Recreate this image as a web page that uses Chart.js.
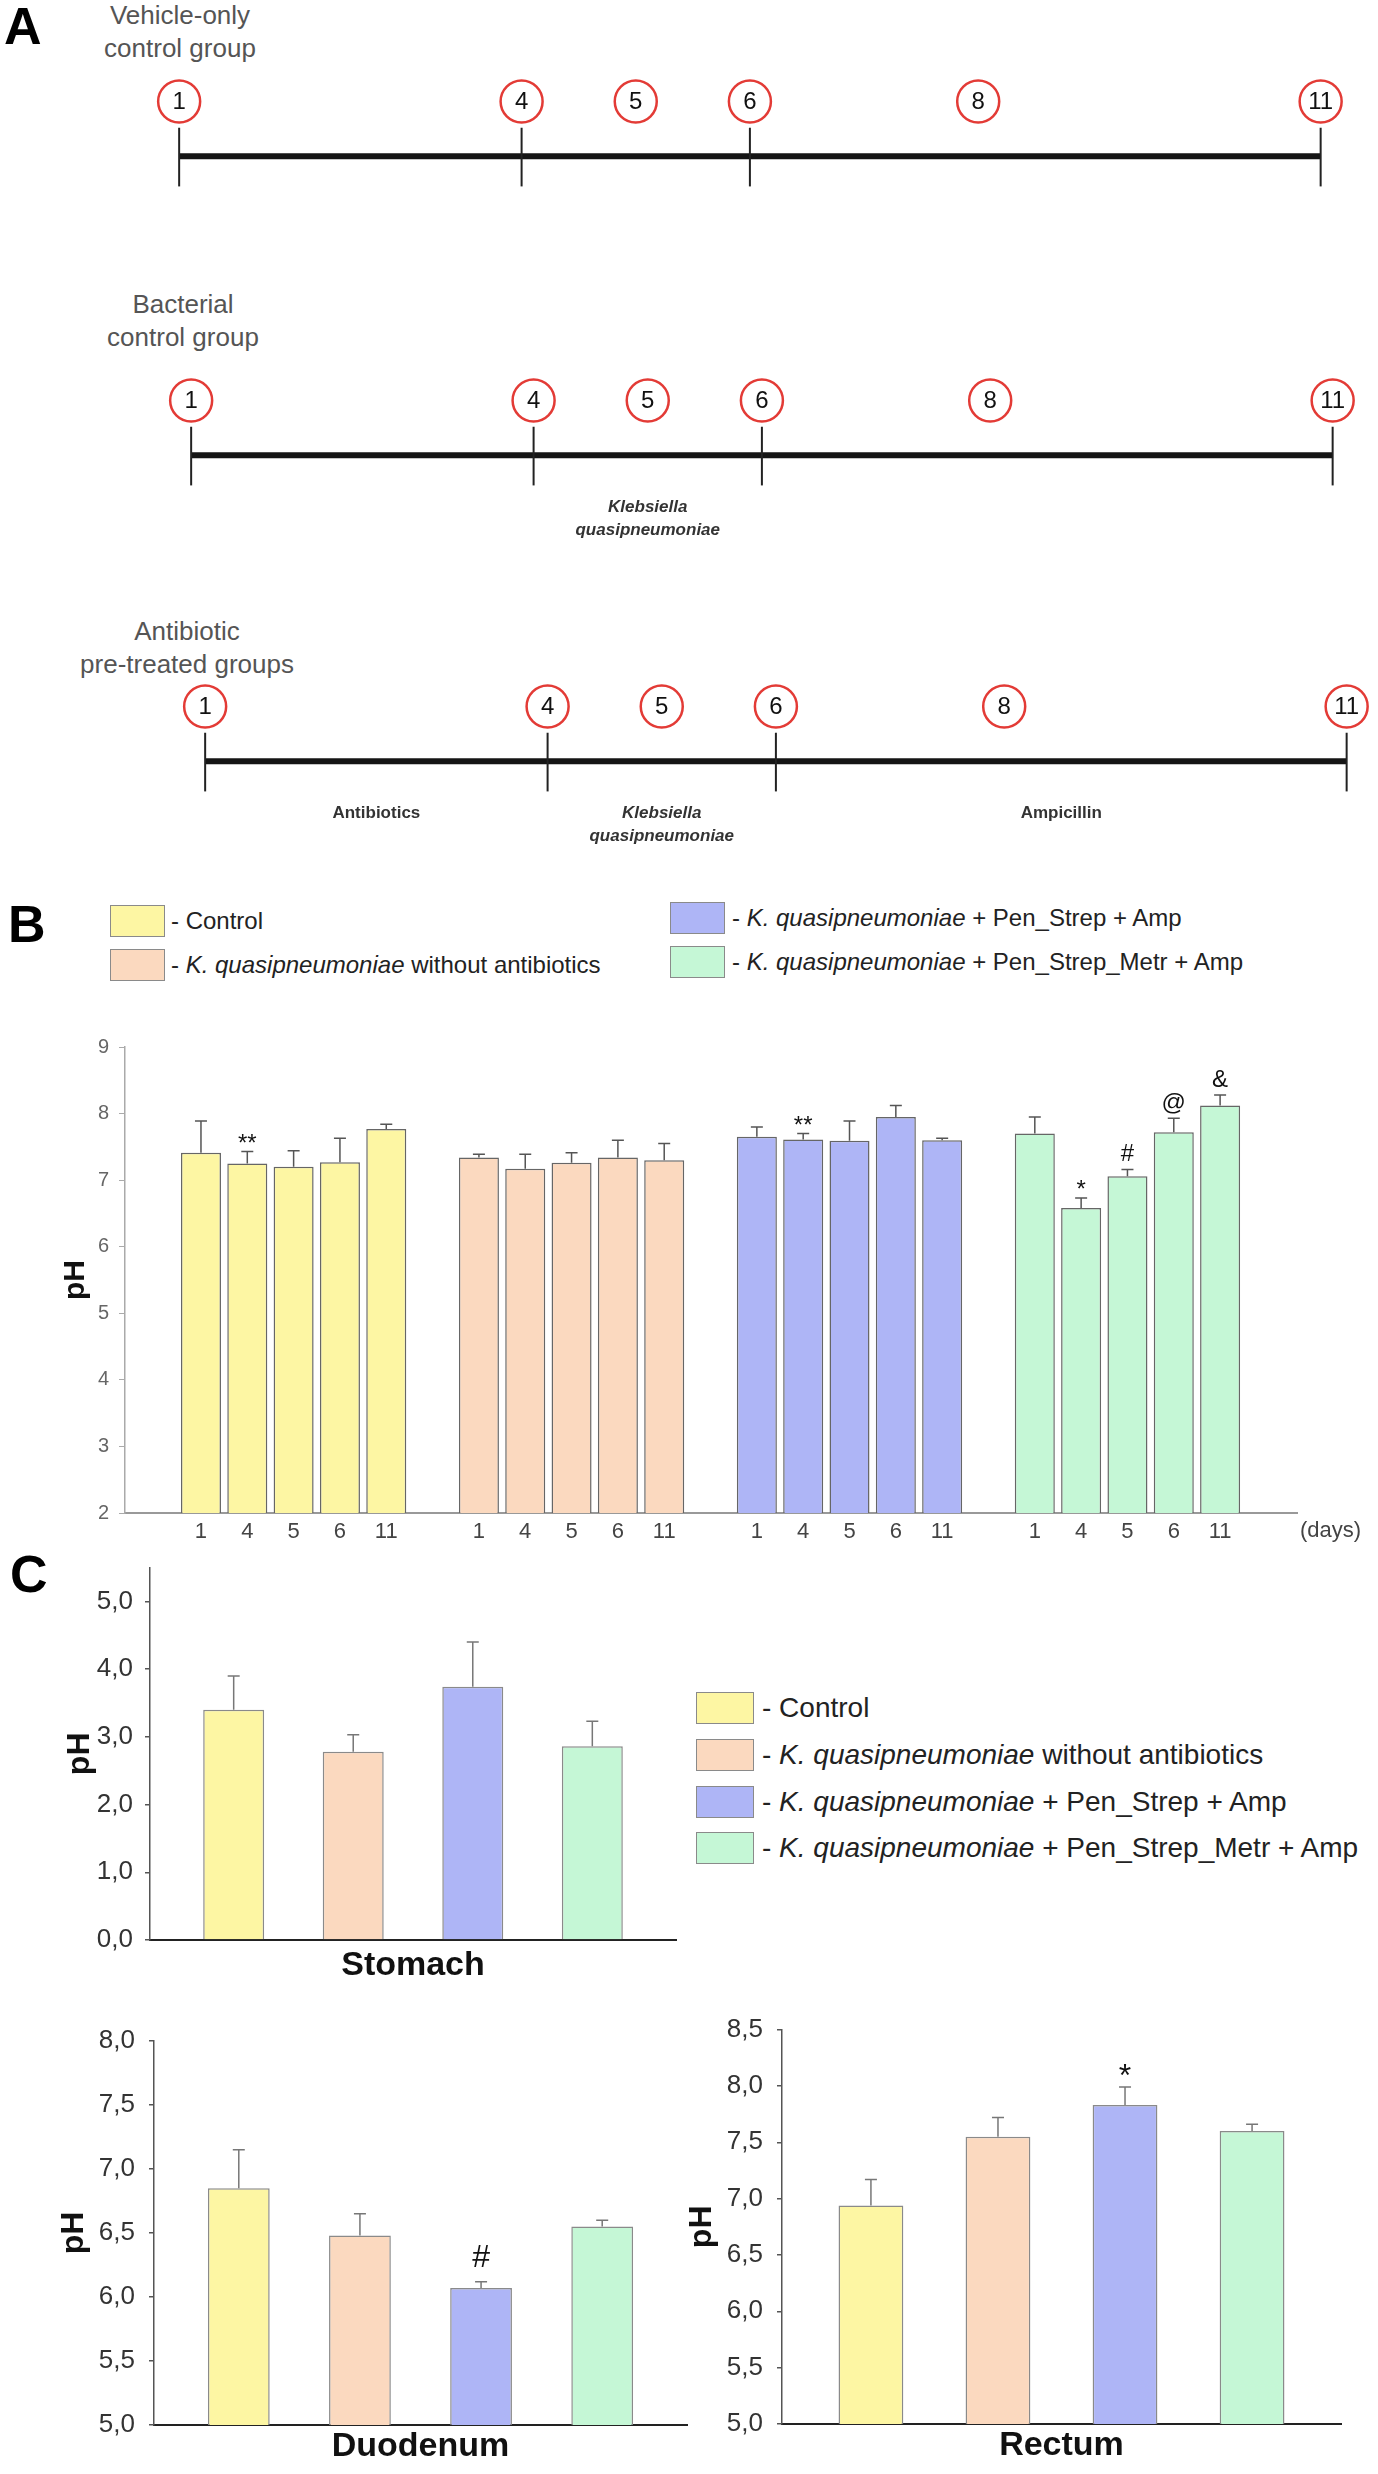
<!DOCTYPE html>
<html lang="en">
<head>
<meta charset="UTF-8">
<title>Gut pH after K. quasipneumoniae infection</title>
<script src="https://cdn.jsdelivr.net/npm/chart.js"></script>
<style>
  body { margin: 0; background: #fff; font-family: 'Liberation Sans', Arial, sans-serif; overflow: hidden; }
  #page { position: relative; width: 1378px; height: 2474px; }
  .abs { position: absolute; }
  .panel { font-weight: bold; font-size: 52px; line-height: 1; color: #000; }
  .rowtitle { width: 300px; text-align: center; font-size: 26px; line-height: 33px; color: #555; }
  .sw { position: absolute; box-sizing: border-box; border: 1.5px solid #8a8a8a; }
  .legB { font-size: 24px; line-height: 32px; color: #222; white-space: nowrap; }
  .legC { font-size: 28px; line-height: 32px; color: #222; white-space: nowrap; }
  .box { position: absolute; }
</style>
</head>
<body>
<div id="page">

  <!-- Panel A: study timeline -->
  <div class="abs panel" style="left:4px; top:0px;">A</div>
  <div class="abs rowtitle" style="left:30px; top:-1px;">Vehicle-only<br>control group</div>
  <div class="abs rowtitle" style="left:33px; top:288px;">Bacterial<br>control group</div>
  <div class="abs rowtitle" style="left:37px; top:615px;">Antibiotic<br>pre-treated groups</div>
  <div class="box" style="left:0; top:74px; width:1378px; height:170px;"><canvas id="rowVehicle"></canvas></div>
  <div class="box" style="left:0; top:373px; width:1378px; height:170px;"><canvas id="rowBacterial"></canvas></div>
  <div class="box" style="left:0; top:679px; width:1378px; height:170px;"><canvas id="rowAntibiotic"></canvas></div>

  <!-- Panel B: pH over days -->
  <div class="abs panel" style="left:8px; top:898px;">B</div>
  <div id="legendB"></div>
  <div class="box" style="left:0; top:1020px; width:1378px; height:540px;"><canvas id="chartB"></canvas></div>
  <div class="abs" style="left:1300px; top:1517px; font-size:22px; line-height:26px; color:#444;">(days)</div>

  <!-- Panel C: pH per gut segment -->
  <div class="abs panel" style="left:10px; top:1548px;">C</div>
  <div id="legendC"></div>
  <div class="box" style="left:0; top:1540px; width:690px; height:446px;"><canvas id="chartStomach"></canvas></div>
  <div class="box" style="left:0; top:2000px; width:700px; height:467px;"><canvas id="chartDuodenum"></canvas></div>
  <div class="box" style="left:680px; top:2000px; width:698px; height:466px;"><canvas id="chartRectum"></canvas></div>
</div>

<script>
  // ---- data ----
  const groupNames = [
    'Control',
    'K. quasipneumoniae without antibiotics',
    'K. quasipneumoniae + Pen_Strep + Amp',
    'K. quasipneumoniae + Pen_Strep_Metr + Amp'
  ];
  const groupColors = ['#fdf6a3', '#fbd9bf', '#aeb5f6', '#c5f7d6'];

  // panel A
  const visitDays = [1, 4, 5, 6, 8, 11];
  const phaseBounds = [1, 4, 6, 11];
  const phaseItalic = [false, true, false];
  const vehiclePhases = ['', '', ''];
  const bacterialPhases = ['', 'Klebsiella\nquasipneumoniae', ''];
  const antibioticPhases = ['Antibiotics', 'Klebsiella\nquasipneumoniae', 'Ampicillin'];

  // panel B (pH by day, mean and SD)
  const dayLabels = ['1', '4', '5', '6', '11'];
  const controlPH  = [7.41, 7.25, 7.20, 7.27, 7.77];
  const controlErr = [0.48, 0.18, 0.24, 0.36, 0.07];
  const kqPH       = [7.34, 7.17, 7.26, 7.34, 7.30];
  const kqErr      = [0.05, 0.22, 0.15, 0.26, 0.25];
  const psaPH      = [7.65, 7.61, 7.59, 7.95, 7.60];
  const psaErr     = [0.15, 0.09, 0.30, 0.17, 0.03];
  const psmaPH     = [7.70, 6.58, 7.06, 7.72, 8.12];
  const psmaErr    = [0.25, 0.15, 0.10, 0.21, 0.16];
  const controlMarks = ['', '**', '', '', ''];
  const kqMarks      = ['', '', '', '', ''];
  const psaMarks     = ['', '**', '', '', ''];
  const psmaMarks    = ['', '*', '#', '@', '&'];

  // panel C (pH per segment)
  const stomachPH   = [3.40, 2.78, 3.74, 2.86];
  const stomachErr  = [0.50, 0.25, 0.66, 0.37];
  const stomachMarks = ['', '', '', ''];
  const duodenumPH  = [6.85, 6.48, 6.07, 6.55];
  const duodenumErr = [0.30, 0.17, 0.05, 0.05];
  const duodenumMarks = ['', '', '#', ''];
  const rectumPH    = [6.94, 7.55, 7.83, 7.60];
  const rectumErr   = [0.23, 0.17, 0.16, 0.06];
  const rectumMarks = ['', '', '*', ''];

  const FONT = "'Liberation Sans', Arial, sans-serif";
  Chart.defaults.font.family = FONT;
  Chart.defaults.animation = false;
  Chart.defaults.responsive = true;
  Chart.defaults.maintainAspectRatio = false;
  Chart.defaults.plugins.legend.display = false;
  Chart.defaults.plugins.tooltip.enabled = false;

  // ---- legends (html) ----
  function legendLabel(name) {
    return '- ' + name.replace('K. quasipneumoniae', '<i>K. quasipneumoniae</i>');
  }
  const legB = document.getElementById('legendB');
  [[110, 905, 171], [110, 949, 171], [670, 902, 732], [670, 946, 732]].forEach((p, i) => {
    legB.insertAdjacentHTML('beforeend',
      `<div class="sw" style="left:${p[0]}px; top:${p[1]}px; width:55px; height:32px; background:${groupColors[i]}"></div>` +
      `<div class="abs legB" style="left:${p[2]}px; top:${p[1]}px;">${legendLabel(groupNames[i])}</div>`);
  });
  const legC = document.getElementById('legendC');
  [1692, 1739, 1786, 1832].forEach((top, i) => {
    legC.insertAdjacentHTML('beforeend',
      `<div class="sw" style="left:696px; top:${top}px; width:58px; height:32px; background:${groupColors[i]}"></div>` +
      `<div class="abs legC" style="left:762px; top:${top}px;">${legendLabel(groupNames[i])}</div>`);
  });

  // ---- panel A ----
  const DAY_PX = 114.15;
  const timelinePlugin = {
    id: 'timeline',
    afterDatasetsDraw(chart, args, opts) {
      const { ctx, scales: { x, y } } = chart;
      ctx.save();
      ctx.strokeStyle = '#222';
      ctx.lineWidth = 2;
      phaseBounds.forEach(b => {
        const px = x.getPixelForValue(b);
        ctx.beginPath();
        ctx.moveTo(px, y.getPixelForValue(0.52));
        ctx.lineTo(px, y.getPixelForValue(-0.55));
        ctx.stroke();
      });
      ctx.textAlign = 'center';
      ctx.textBaseline = 'middle';
      ctx.fillStyle = '#111';
      ctx.font = '24px ' + FONT;
      chart.getDatasetMeta(1).data.forEach((pt, i) => ctx.fillText(String(visitDays[i]), pt.x, pt.y + 1));
      opts.labels.forEach((txt, i) => {
        if (!txt) return;
        const px = x.getPixelForValue((phaseBounds[i] + phaseBounds[i + 1]) / 2);
        ctx.font = (phaseItalic[i] ? 'italic ' : '') + 'bold 17px ' + FONT;
        ctx.fillStyle = '#333';
        txt.split('\n').forEach((line, k) => ctx.fillText(line, px, y.getPixelForValue(-0.95) + k * 23));
      });
      ctx.restore();
    }
  };

  function timeline(id, xMin, phases) {
    return new Chart(document.getElementById(id), {
      type: 'scatter',
      data: {
        datasets: [
          { type: 'line', data: [{ x: phaseBounds[0], y: 0 }, { x: phaseBounds[phaseBounds.length - 1], y: 0 }],
            borderColor: '#151515', borderWidth: 6, pointRadius: 0, clip: false },
          { data: visitDays.map(d => ({ x: d, y: 1 })), pointRadius: 21, pointBorderWidth: 2.5,
            pointBorderColor: '#e33b36', pointBackgroundColor: '#fff', clip: false }
        ]
      },
      options: {
        layout: { padding: 0, autoPadding: false },
        scales: {
          x: { type: 'linear', display: false, min: xMin, max: xMin + 1378 / DAY_PX },
          y: { display: false, min: -1.6, max: 1.5 }
        },
        plugins: { timeline: { labels: phases } }
      },
      plugins: [timelinePlugin]
    });
  }
  timeline('rowVehicle', -65 / DAY_PX, vehiclePhases);
  timeline('rowBacterial', -77 / DAY_PX, bacterialPhases);
  timeline('rowAntibiotic', -91 / DAY_PX, antibioticPhases);

  // ---- error bars + significance marks ----
  const errorBarPlugin = {
    id: 'errorBars',
    afterDatasetsDraw(chart, args, opts) {
      const ctx = chart.ctx;
      const yScale = chart.scales.y;
      chart.data.datasets.forEach((ds, di) => {
        chart.getDatasetMeta(di).data.forEach((bar, i) => {
          const top = yScale.getPixelForValue(ds.data[i].y + ds.errors[i]);
          ctx.save();
          ctx.strokeStyle = opts.color;
          ctx.lineWidth = opts.width;
          ctx.beginPath();
          ctx.moveTo(bar.x, bar.y);
          ctx.lineTo(bar.x, top);
          ctx.moveTo(bar.x - opts.cap, top);
          ctx.lineTo(bar.x + opts.cap, top);
          ctx.stroke();
          const m = ds.marks[i];
          if (m) {
            ctx.fillStyle = '#111';
            ctx.font = opts.font + 'px ' + FONT;
            ctx.textAlign = 'center';
            ctx.textBaseline = 'alphabetic';
            ctx.fillText(m, bar.x, top - (m.includes('*') ? opts.starGap : opts.gap));
          }
          ctx.restore();
        });
      });
    }
  };

  // ---- panel B ----
  const bGroups = [
    [controlPH, controlErr, controlMarks],
    [kqPH, kqErr, kqMarks],
    [psaPH, psaErr, psaMarks],
    [psmaPH, psmaErr, psmaMarks]
  ];
  const bData = [], bErr = [], bMarks = [], bColors = [], bLabels = [];
  bGroups.forEach(([ph, err, marks], g) => {
    ph.forEach((v, i) => {
      bData.push({ x: g * (dayLabels.length + 1) + i, y: v });
      bErr.push(err[i]);
      bMarks.push(marks[i]);
      bColors.push(groupColors[g]);
      bLabels.push(dayLabels[i]);
    });
  });

  new Chart(document.getElementById('chartB'), {
    type: 'bar',
    data: {
      datasets: [{
        data: bData, errors: bErr, marks: bMarks,
        backgroundColor: bColors, borderColor: '#666', borderWidth: 1.5,
        barPercentage: 0.864, categoryPercentage: 1
      }]
    },
    options: {
      layout: { padding: { top: 27, right: 81, left: 0, bottom: 0 } },
      scales: {
        x: {
          type: 'linear', offset: false, min: -1.64, max: bData[bData.length - 1].x + 1.66,
          afterBuildTicks: s => { s.ticks = bData.map(p => ({ value: p.x })); },
          ticks: { autoSkip: false, maxRotation: 0, color: '#444', font: { size: 22 }, padding: 6,
                   callback: (v, i) => bLabels[i] },
          grid: { offset: false, drawOnChartArea: false, drawTicks: false },
          border: { color: '#999', width: 2 },
          afterFit: s => { s.height = 47; }
        },
        y: {
          min: 2, max: 9,
          ticks: { stepSize: 1, color: '#666', font: { size: 20 }, padding: 10 },
          grid: { drawOnChartArea: false, tickLength: 6, color: '#aaa' },
          border: { color: '#aaa', width: 1.5 },
          title: { display: true, text: 'pH', color: '#111', font: { size: 30, weight: 'bold' }, padding: { top: 58, bottom: 0 } },
          afterFit: s => { s.width = 125; }
        }
      },
      plugins: { errorBars: { color: '#555', width: 1.5, cap: 6, font: 24, gap: 8, starGap: 1 } }
    },
    plugins: [errorBarPlugin]
  });

  // ---- panel C ----
  function organChart(id, name, ph, err, marks, yMin, yMax, cfg) {
    return new Chart(document.getElementById(id), {
      type: 'bar',
      data: {
        datasets: [{
          data: ph.map((v, i) => ({ x: i, y: v })), errors: err, marks: marks,
          backgroundColor: groupColors, borderColor: '#8a8a8a', borderWidth: 1.5,
          barPercentage: 0.51, categoryPercentage: 1
        }]
      },
      options: {
        layout: { padding: { top: cfg.top, right: cfg.right, left: 0, bottom: 0 } },
        scales: {
          x: {
            type: 'linear', offset: false, min: -0.7, max: ph.length - 0.3,
            afterBuildTicks: s => { s.ticks = ph.map((v, i) => ({ value: i })); },
            ticks: { display: false },
            grid: { offset: false, drawOnChartArea: false, drawTicks: false },
            border: { color: '#222', width: 2 },
            title: { display: true, text: name, color: '#111', font: { size: 34, weight: 'bold' }, padding: 0 },
            afterFit: s => { s.height = cfg.bottom; }
          },
          y: {
            min: yMin, max: yMax,
            afterBuildTicks: s => { s.ticks = s.ticks.filter(t => t.value <= cfg.lastTick + 1e-9); },
            ticks: { stepSize: cfg.step, color: '#333', font: { size: 26 }, padding: cfg.tickPad,
                     callback: v => v.toFixed(1).replace('.', ',') },
            grid: { drawOnChartArea: false, tickLength: 5, color: '#555', lineWidth: 1.5 },
            border: { color: '#555', width: 1.5 },
            title: { display: true, text: 'pH', color: '#111', font: { size: 32, weight: 'bold' }, padding: { top: cfg.titlePad, bottom: 0 } },
            afterFit: s => { s.width = cfg.left; }
          }
        },
        plugins: { errorBars: { color: '#777', width: 1.5, cap: 6, font: 32, gap: 15, starGap: 1 } }
      },
      plugins: [errorBarPlugin]
    });
  }

  organChart('chartStomach', 'Stomach', stomachPH, stomachErr, stomachMarks, 0, 5.5,
    { top: 20, right: 14, bottom: 46, left: 150, step: 1, lastTick: 5, tickPad: 12, titlePad: 61 });
  organChart('chartDuodenum', 'Duodenum', duodenumPH, duodenumErr, duodenumMarks, 5, 8,
    { top: 41, right: 13, bottom: 42, left: 154, step: 0.5, lastTick: 8, tickPad: 14, titlePad: 55 });
  organChart('chartRectum', 'Rectum', rectumPH, rectumErr, rectumMarks, 5, 8.5,
    { top: 21, right: 37, bottom: 42, left: 102, step: 0.5, lastTick: 8.5, tickPad: 14, titlePad: 3 });
</script>
</body>
</html>
